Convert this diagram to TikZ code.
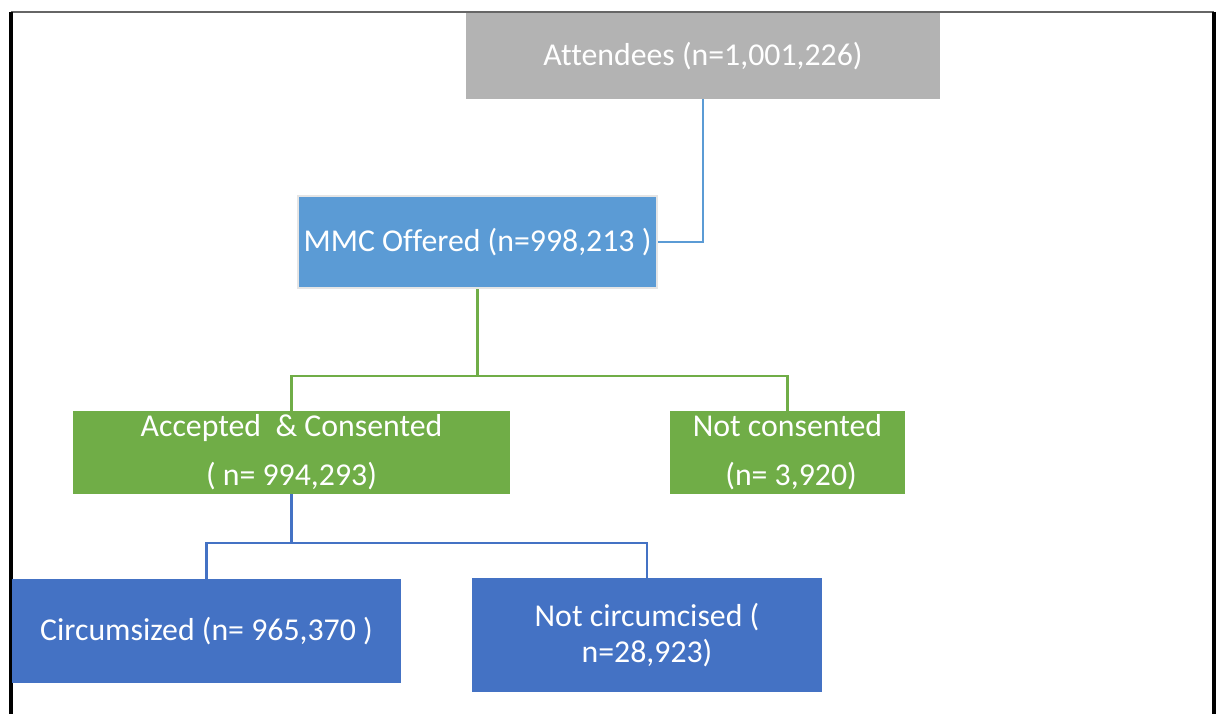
\documentclass[tikz,border=0pt]{standalone}
\usepackage{fontspec}
\setmainfont[Ligatures=NoCommon]{Carlito}
\definecolor{boxgray}{HTML}{B3B3B3}
\definecolor{lblue}{HTML}{5B9BD5}
\definecolor{lgreen}{HTML}{70AD47}
\definecolor{dblue}{HTML}{4472C4}
\begin{document}
\begin{tikzpicture}[x=1pt,y=-1pt,
  box/.style={draw=none,text=white,inner sep=0pt,align=center,
    font=\fontsize{31.8}{38}\selectfont},
  conn/.style={line width=2.6pt},
  frameside/.style={line width=3.2pt,black},
  frametop/.style={line width=1.6pt,black!60}]
\useasboundingbox (0,0) rectangle (1218,714);
% frame
\draw[frametop] (11,12) -- (1214,12);
\draw[frameside] (11,12) -- (11,714);
\draw[frameside] (1214,12) -- (1214,714);
% boxes
\node[box,fill=boxgray,minimum width=474pt,minimum height=86pt] (att) at (703,56) {Attendees (n=1,001,226)};
\node[box,fill=lblue,draw=black!10,line width=2pt,minimum width=359pt,minimum height=92pt] (mmc) at (477.5,242) {MMC Offered (n=998,213 )};
\node[box,fill=lgreen,minimum width=437pt,minimum height=83pt,font=\fontsize{31.8}{49}\selectfont] (acc) at (291.5,452.5) {Accepted\ \ \& Consented\\( n= 994,293)};
\node[box,fill=lgreen,minimum width=235pt,minimum height=83pt,font=\fontsize{31.8}{49}\selectfont] (notc) at (787.5,452.5) {Not consented\\\ (n= 3,920)};
\node[box,fill=dblue,minimum width=389pt,minimum height=104pt] (circ) at (206.5,631) {Circumsized (n= 965,370 )};
\node[box,fill=dblue,minimum width=350pt,minimum height=114pt,font=\fontsize{31.8}{36}\selectfont] (notcirc) at (647,635) {Not circumcised (\\n=28,923)};
% connectors
\draw[conn,lblue] (att.south) |- (mmc.east);
\coordinate (gj) at (mmc.south |- 0,376);
\draw[conn,lgreen] (mmc.south) -- (gj);
\draw[conn,lgreen] (acc.north) |- (gj) -| (notc.north);
\coordinate (bj) at (acc.south |- 0,543);
\draw[conn,dblue] (acc.south) -- (bj);
\draw[conn,dblue] (circ.north) |- (bj) -| (notcirc.north);
\end{tikzpicture}
\end{document}
